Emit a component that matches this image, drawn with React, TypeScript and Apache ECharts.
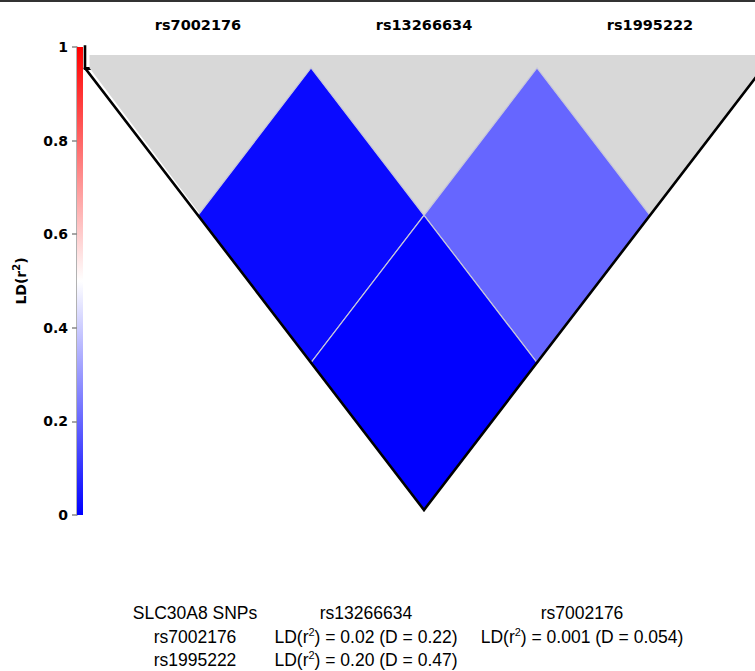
import React, { useEffect, useRef } from "react";
import * as echarts from "echarts";

// ---- data ----
const snps = ["rs7002176", "rs13266634", "rs1995222"];
// LD pairs (0-based SNP indices)
const pairA = [0, 1, 0];
const pairB = [1, 2, 2];
const r2Text = ["0.02", "0.20", "0.001"];
const dText = ["0.22", "0.47", "0.054"];
// colour bar
const ldMin = 0;
const ldMax = 1;
const ldInterval = 0.2;
const ldColors = ["#0000ff", "#ffffff", "#ff0000"];
// summary table (cells refer to LD pair indices, -1 = empty)
const tableTitle = "SLC30A8 SNPs";
const tableCols = ["rs13266634", "rs7002176"];
const tableRows = ["rs7002176", "rs1995222"];
const tableCells = [
  [0, 2],
  [1, -1],
];

const FONT_B = "DejaVu Sans";
const FONT_T = "Liberation Sans, Arial, sans-serif";

export default function App() {
  const ref = useRef<HTMLDivElement>(null);
  useEffect(() => {
    document.body.style.margin = "0";
    const chart = echarts.init(ref.current!, null, { renderer: "svg" });

    const diamondData = pairA.map((a, k) => [a + 1, pairB[k] + 1, parseFloat(r2Text[k])]);
    const vMin = -0.061;
    const grayTop = -0.044;
    const xMax = 0.5 + 670 / 226;

    // table graphics
    const colX = [195, 366, 582];
    const rowY = [613, 637, 660];
    const tableEls: any[] = [];
    const mkText = (txt: string, x: number, y: number) => ({
      type: "text",
      x,
      y,
      style: {
        text: txt,
        fill: "#000",
        fontSize: 17.5,
        fontFamily: FONT_T,
        lineHeight: 22,
        align: "center",
        verticalAlign: "middle",
        rich: {
          sup: { fontSize: 11, fontFamily: FONT_T, verticalAlign: "top", fill: "#000" },
        },
      },
    });
    tableEls.push(mkText(tableTitle, colX[0], rowY[0]));
    tableCols.forEach((c, ci) => tableEls.push(mkText(c, colX[ci + 1], rowY[0])));
    tableRows.forEach((r, ri) => {
      tableEls.push(mkText(r, colX[0], rowY[ri + 1]));
      tableCells[ri].forEach((k, ci) => {
        if (k < 0) return;
        tableEls.push(
          mkText(`LD(r{sup|2}) = ${r2Text[k]} (D = ${dText[k]})`, colX[ci + 1], rowY[ri + 1])
        );
      });
    });

    const option: any = {
      animation: false,
      backgroundColor: "#ffffff",
      grid: [
        { left: 85, right: 0, top: 50, bottom: 161 },
        { left: 77, width: 6, top: 47, bottom: 156 },
      ],
      xAxis: [
        {
          type: "value",
          gridIndex: 0,
          position: "top",
          min: 0.5,
          max: xMax,
          axisLine: { show: true, lineStyle: { color: "#000", width: 3 } },
          axisTick: {
            show: true,
            customValues: snps.map((_, i) => i + 1),
            length: 7,
            lineStyle: { color: "#555", width: 1 },
          },
          axisLabel: {
            show: true,
            customValues: snps.map((_, i) => i + 1),
            formatter: (v: number) => snps[Math.round(v) - 1] || "",
            fontFamily: FONT_B,
            fontWeight: "bold",
            fontSize: 14.5,
            color: "#000",
            margin: 18,
          },
          splitLine: { show: false },
        },
        {
          type: "category",
          gridIndex: 1,
          data: [""],
          show: false,
        },
      ],
      yAxis: [
        {
          type: "value",
          gridIndex: 0,
          inverse: true,
          min: vMin,
          max: 1.5,
          show: false,
        },
        {
          type: "value",
          gridIndex: 1,
          min: ldMin,
          max: ldMax,
          interval: ldInterval,
          name: "{a|LD(r}{s|2}{a|)}",
          nameLocation: "middle",
          nameRotate: 90,
          nameGap: 46,
          nameTextStyle: {
            rich: {
              a: { fontFamily: FONT_B, fontWeight: "bold", fontSize: 14, color: "#000", lineHeight: 20 },
              s: { fontFamily: FONT_B, fontWeight: "bold", fontSize: 10, color: "#000", verticalAlign: "top" },
            },
          },
          axisLine: { show: true, lineStyle: { color: "#999", width: 1.5 } },
          axisTick: { show: true, length: 5, lineStyle: { color: "#888", width: 1.5 } },
          axisLabel: {
            fontFamily: FONT_B,
            fontWeight: "bold",
            fontSize: 14,
            color: "#000",
            margin: 9,
          },
          splitLine: { show: false },
        },
      ],
      visualMap: {
        show: false,
        type: "continuous",
        seriesIndex: 1,
        dimension: 2,
        min: ldMin,
        max: ldMax,
        inRange: { color: ldColors },
      },
      series: [
        {
          type: "custom",
          xAxisIndex: 0,
          yAxisIndex: 0,
          data: [[0.5, 0]],
          silent: true,
          renderItem: (_p: any, api: any) => {
            const n = snps.length;
            const pts = [
              [0.52, grayTop],
              [n + 0.5, grayTop],
              [n + 0.5, 0],
              [(n + 1) / 2, n / 2],
              [0.52, 0],
            ].map((q) => api.coord(q));
            return { type: "polygon", shape: { points: pts }, style: { fill: "#d8d8d8" } };
          },
        },
        {
          type: "custom",
          xAxisIndex: 0,
          yAxisIndex: 0,
          data: diamondData,
          renderItem: (_p: any, api: any) => {
            const a = api.value(0);
            const b = api.value(1);
            const cu = (a + b) / 2;
            const cv = (b - a) / 2;
            const pts = [
              [cu, cv - 0.5],
              [cu + 0.5, cv],
              [cu, cv + 0.5],
              [cu - 0.5, cv],
            ].map((q) => api.coord(q));
            return {
              type: "polygon",
              shape: { points: pts },
              style: { fill: api.visual("color"), stroke: "#c8c8da", lineWidth: 1.2 },
            };
          },
        },
        {
          type: "custom",
          xAxisIndex: 0,
          yAxisIndex: 0,
          data: [[0.5, 0]],
          silent: true,
          renderItem: (_p: any, api: any) => {
            const n = snps.length;
            const pts = [
              [0.5, vMin - 0.016],
              [0.5, 0],
              [(n + 1) / 2, n / 2],
              [n + 0.5, 0],
            ].map((q) => api.coord(q));
            return {
              type: "polyline",
              shape: { points: pts },
              style: { stroke: "#000", lineWidth: 2.6, fill: null },
            };
          },
        },
        {
          type: "bar",
          xAxisIndex: 1,
          yAxisIndex: 1,
          data: [ldMax],
          barWidth: "100%",
          silent: true,
          itemStyle: {
            color: new echarts.graphic.LinearGradient(0, 1, 0, 0, [
              { offset: 0, color: ldColors[0] },
              { offset: 0.5, color: ldColors[1] },
              { offset: 1, color: ldColors[2] },
            ]),
          },
        },
      ],
      graphic: [
        { type: "rect", shape: { x: 0, y: 0, width: 755, height: 2 }, style: { fill: "#333" } },
        ...tableEls,
      ],
    };
    chart.setOption(option);
    return () => chart.dispose();
  }, []);
  return <div ref={ref} style={{ width: 755, height: 671 }} />;
}
